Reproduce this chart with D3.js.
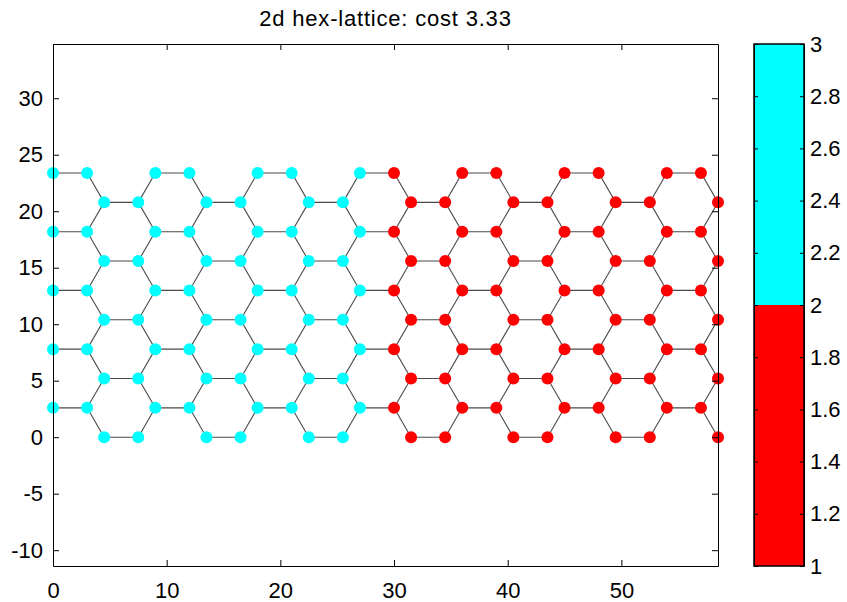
<!DOCTYPE html>
<html>
<head>
<meta charset="utf-8">
<script src="https://cdn.jsdelivr.net/npm/d3@7"></script>
<style>
  body { margin: 0; background: #fff; }
  svg { font-family: "Liberation Sans", Arial, sans-serif; }
  .axis text { font-size: 22px; fill: #000; }
  .axis path, .axis line { stroke: #000; }
  .title { font-size: 22px; letter-spacing: 0.8px; }
</style>
</head>
<body>
<div id="chart-container"></div>
<script>
// lattice rows (y of each row) and node x positions for even / odd rows
let rowY = [0, 2.598, 5.196, 7.794, 10.392, 12.990, 15.588, 18.187, 20.785, 23.383];
let evenRowX = [4.5, 7.5, 13.5, 16.5, 22.5, 25.5, 31.5, 34.5, 40.5, 43.5, 49.5, 52.5, 58.5];
let oddRowX = [0, 3, 9, 12, 18, 21, 27, 30, 36, 39, 45, 48, 54, 57];
// cluster value of each node in a row (3 = cyan, 1 = red)
let evenRowValue = [3, 3, 3, 3, 3, 3, 1, 1, 1, 1, 1, 1, 1];
let oddRowValue = [3, 3, 3, 3, 3, 3, 3, 1, 1, 1, 1, 1, 1, 1];

let xTicks = [0, 10, 20, 30, 40, 50];
let yTicks = [-10, -5, 0, 5, 10, 15, 20, 25, 30];
let cbTicks = [1, 1.2, 1.4, 1.6, 1.8, 2, 2.2, 2.4, 2.6, 2.8, 3];
let cbColors = ['#ff0000', '#00ffff'];
let title = '2d hex-lattice: cost 3.33';

let margin = {top: 44, left: 53};
let width = 665, height = 522;

let svg = d3.select('#chart-container').append('svg')
    .attr('width', 847)
    .attr('height', 602);

let x = d3.scaleLinear().domain([0, 58.5]).range([margin.left, margin.left + width]);
let y = d3.scaleLinear().domain([-11.4, 34.8]).range([margin.top + height, margin.top]);
let color = d3.scaleThreshold().domain([2]).range(cbColors);

// plain hyphen for negatives, like the original
let fmt = function(d) { return String(d); };

// build nodes from the row arrays
let nodes = [];
rowY.forEach(function(ry, k) {
    let xs = k % 2 === 0 ? evenRowX : oddRowX;
    let vs = k % 2 === 0 ? evenRowValue : oddRowValue;
    xs.forEach(function(rx, i) {
        nodes.push({x: rx, y: ry, v: vs[i]});
    });
});

// edges: neighbours in the lattice are 3 units apart
let edges = [];
for (let i = 0; i < nodes.length; i++) {
    for (let j = i + 1; j < nodes.length; j++) {
        let d = Math.hypot(nodes[i].x - nodes[j].x, nodes[i].y - nodes[j].y);
        if (Math.abs(d - 3) < 0.05) edges.push([nodes[i], nodes[j]]);
    }
}

let plot = svg.append('g');

plot.selectAll('line.edge')
    .data(edges)
    .enter().append('line')
    .attr('class', 'edge')
    .attr('x1', function(d) { return x(d[0].x); })
    .attr('y1', function(d) { return y(d[0].y); })
    .attr('x2', function(d) { return x(d[1].x); })
    .attr('y2', function(d) { return y(d[1].y); })
    .attr('stroke', '#4a4a4a')
    .attr('stroke-width', 1.1);

plot.selectAll('circle.node')
    .data(nodes)
    .enter().append('circle')
    .attr('class', 'node')
    .attr('cx', function(d) { return x(d.x); })
    .attr('cy', function(d) { return y(d.y); })
    .attr('r', 6)
    .attr('fill', function(d) { return color(d.v); });

// axes box, ticks on all four sides pointing inward
let tick = 6;
svg.append('g').attr('class', 'axis')
    .attr('transform', 'translate(0,' + (margin.top + height) + ')')
    .call(d3.axisBottom(x).tickValues(xTicks).tickSize(-tick).tickSizeOuter(0).tickPadding(16).tickFormat(fmt));
svg.append('g').attr('class', 'axis')
    .attr('transform', 'translate(0,' + margin.top + ')')
    .call(d3.axisTop(x).tickValues(xTicks).tickSize(-tick).tickSizeOuter(0).tickFormat(''));
svg.append('g').attr('class', 'axis')
    .attr('transform', 'translate(' + margin.left + ',0)')
    .call(d3.axisLeft(y).tickValues(yTicks).tickSize(-tick).tickSizeOuter(0).tickPadding(10).tickFormat(fmt));
svg.append('g').attr('class', 'axis')
    .attr('transform', 'translate(' + (margin.left + width) + ',0)')
    .call(d3.axisRight(y).tickValues(yTicks).tickSize(-tick).tickSizeOuter(0).tickFormat(''));

svg.append('text')
    .attr('class', 'title')
    .attr('x', margin.left + width / 2)
    .attr('y', 26)
    .attr('text-anchor', 'middle')
    .text(title);

// colorbar
let cbX = 754, cbW = 50;
let cb = d3.scaleLinear().domain([1, 3]).range([margin.top + height, margin.top]);
let cbg = svg.append('g');
cbg.selectAll('rect')
    .data([[1, 2], [2, 3]])
    .enter().append('rect')
    .attr('x', cbX)
    .attr('width', cbW)
    .attr('y', function(d) { return cb(d[1]); })
    .attr('height', function(d) { return cb(d[0]) - cb(d[1]); })
    .attr('fill', function(d) { return color(d[0]); });

svg.append('g').attr('class', 'axis')
    .attr('transform', 'translate(' + (cbX + cbW) + ',0)')
    .call(d3.axisRight(cb).tickValues(cbTicks).tickSize(-4).tickSizeOuter(0).tickPadding(6)
        .tickFormat(d3.format('~g')));
svg.append('g').attr('class', 'axis')
    .attr('transform', 'translate(' + cbX + ',0)')
    .call(d3.axisLeft(cb).tickValues(cbTicks).tickSize(-4).tickSizeOuter(0).tickFormat(''));

cbg.append('rect')
    .attr('x', cbX)
    .attr('y', margin.top)
    .attr('width', cbW)
    .attr('height', height)
    .attr('fill', 'none')
    .attr('stroke', '#000')
    .attr('stroke-width', 1.5);
</script>
</body>
</html>
